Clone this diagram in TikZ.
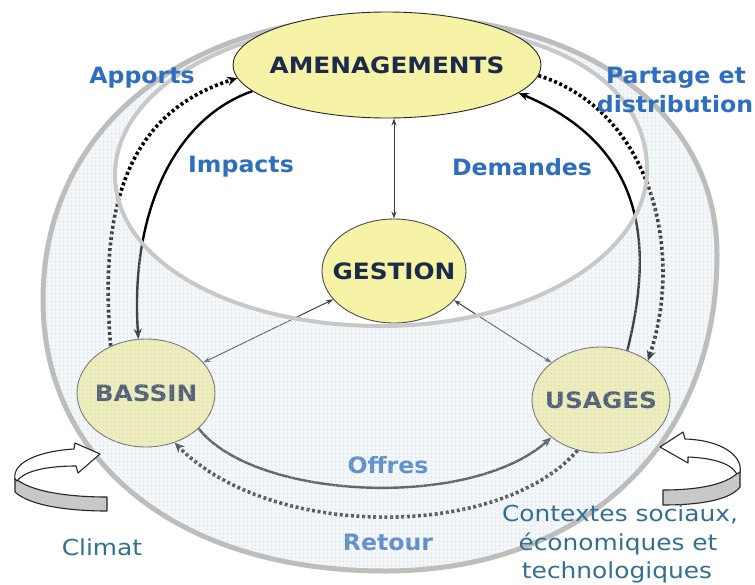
\documentclass[tikz,border=0pt]{standalone}
\usepackage{fontspec}
\setmainfont{DejaVu Sans}
\newfontfamily\nodefont[FakeStretch=1.1]{DejaVu Sans}
\newfontfamily\lblfont[FakeStretch=1.05]{DejaVu Sans}
\newfontfamily\ctxfont[FakeStretch=1.13]{DejaVu Sans}
\usetikzlibrary{shapes.geometric,arrows.meta,patterns.meta}
\pgfdeclarelayer{ringlayer}
\pgfdeclarelayer{toplayer}
\pgfsetlayers{main,ringlayer,toplayer}
\definecolor{ellfill}{HTML}{F7F3A6}
\definecolor{navy}{HTML}{1C2B4A}
\definecolor{lblblue}{HTML}{2E6EBE}
\definecolor{ctxblue}{HTML}{336F91}
\definecolor{ringgray}{HTML}{BDBDBD}
\definecolor{ringgraytwo}{HTML}{C8C8C8}
\definecolor{ringfill}{HTML}{D8E2EC}
\definecolor{dotcol}{HTML}{BCC8D4}
\definecolor{bandgray}{HTML}{C8C8C8}
\newcommand{\zerow}[1]{\makebox[0pt]{#1}}
\tikzset{
  ell/.style={ellipse, draw=black!70, line width=0.9pt, fill=ellfill, inner sep=0pt,
    font=\nodefont\bfseries\fontsize{22.5}{22.5}\selectfont, text=navy},
  lbl/.style={font=\lblfont\bfseries\fontsize{22.5}{26}\selectfont, text=lblblue, anchor=base, inner sep=0pt},
  ctx/.style={font=\ctxfont\fontsize{22}{30}\selectfont, text=ctxblue, anchor=base, inner sep=0pt},
  flow/.style={line width=2.4pt, -{Stealth[length=10pt,width=8pt]}},
  dotflow/.style={line width=3.6pt, dash pattern=on 3pt off 2.6pt, -{Stealth[length=10pt,width=9pt]}},
  gline/.style={line width=1pt, draw=black!75, {Stealth[length=7pt,width=5pt]}-{Stealth[length=7pt,width=5pt]}},
  turnband/.style={fill=bandgray, draw=black!85, line width=1.1pt, line join=round},
  turntop/.style={fill=white, draw=black!85, line width=1.1pt, line join=round}
}
\begin{document}
\begin{tikzpicture}[x=1pt,y=-1pt]
\useasboundingbox (0,0) rectangle (755,584);
\fill[white] (0,0) rectangle (755,584);

\begin{pgfonlayer}{toplayer}
\node[ell, draw=black!85, minimum width=308pt, minimum height=106pt] (amen) at (387,65) {\zerow{AMENAGEMENTS}};
\end{pgfonlayer}

% nodes inside the ring
\node[ell, minimum width=138pt, minimum height=108pt] (bass) at (146,393) {\zerow{BASSIN}};
\node[ell, minimum width=138pt, minimum height=106pt] (usag) at (601,400) {\zerow{USAGES}};
\node[ell, minimum width=144pt, minimum height=104pt] (gest) at (394,271) {\zerow{GESTION}};

% connectors
\draw[dotflow] (bass.127) .. controls (100,220) and (120,115) .. (amen.185);
\draw[flow] (amen.191) .. controls (170,120) and (130,220) .. (bass.98);
\draw[flow] (usag.62) .. controls (650,260) and (655,150) .. (amen.348);
\draw[dotflow] (amen.356) .. controls (650,110) and (685,250) .. (usag.40);
\draw[flow, draw=black!80] (bass.326) .. controls (255,500) and (470,510) .. (usag.217);
\draw[dotflow, draw=black!85] (usag.245) .. controls (500,540) and (270,540) .. (bass.300);
\draw[gline] (gest.205) -- (bass.28);
\draw[gline] (gest.334) -- (usag.143);
\draw[gline] (gest.north |- amen.south) -- (gest.north);

% labels in the ring
\node[lbl] (impacts) at (241,172) {Impacts};
\node[lbl] (demandes) at (522,175) {Demandes};
\node[lbl] (offres) at (388,473) {Offres};
\node[lbl] (retour) at (388,550) {Retour};

% ring overlay
\begin{pgfonlayer}{ringlayer}
\begin{scope}
  \clip (390,16) .. controls (586,16) and (717,112) .. (717,255)
    .. controls (717,445) and (584,571) .. (385,571)
    .. controls (180,571) and (43,463) .. (43,300)
    .. controls (43,130) and (182,16) .. (390,16) -- cycle;
  \fill[ringfill, fill opacity=0.3, even odd rule] (0,0) rectangle (755,584)
    (381,22) .. controls (545,22) and (647,78) .. (647,170)
    .. controls (647,255) and (530,326) .. (381,326)
    .. controls (230,326) and (115,260) .. (115,175)
    .. controls (115,90) and (230,22) .. (381,22) -- cycle;
  \fill[pattern={Dots[distance=4pt, radius=0.55pt]}, pattern color=dotcol, even odd rule] (0,0) rectangle (755,584)
    (381,22) .. controls (545,22) and (647,78) .. (647,170)
    .. controls (647,255) and (530,326) .. (381,326)
    .. controls (230,326) and (115,260) .. (115,175)
    .. controls (115,90) and (230,22) .. (381,22) -- cycle;
\end{scope}
\draw[ringgraytwo, line width=4pt]
    (381,22) .. controls (545,22) and (647,78) .. (647,170)
    .. controls (647,255) and (530,326) .. (381,326)
    .. controls (230,326) and (115,260) .. (115,175)
    .. controls (115,90) and (230,22) .. (381,22) -- cycle;
\draw[ringgray, line width=5pt] (390,16) .. controls (586,16) and (717,112) .. (717,255)
    .. controls (717,445) and (584,571) .. (385,571)
    .. controls (180,571) and (43,463) .. (43,300)
    .. controls (43,130) and (182,16) .. (390,16) -- cycle;
\end{pgfonlayer}

\begin{pgfonlayer}{toplayer}
% outer labels
\node[lbl] (apports) at (142,83) {Apports};
\node[lbl] (partage) at (676,83) {Partage et};
\node[lbl] (distrib) at (675,112) {distribution};

% turning arrows
\path[turnband] (15,478) -- (15,492) .. controls (30,506) and (70,511) .. (107,511) -- (107,497) .. controls (70,497) and (30,492) .. (15,478) -- cycle;
\path[turntop] (15,479) .. controls (12,462) and (40,451) .. (74,449) -- (75,443) -- (100,454) -- (78,473) -- (76,466) .. controls (50,466) and (25,470) .. (17,481) -- cycle;
\path[turnband] (740,470) -- (740,487) .. controls (730,500) and (700,505) .. (663,505) -- (663,490) .. controls (700,490) and (730,484) .. (740,470) -- cycle;
\path[turntop] (740,472) .. controls (743,455) and (720,440) .. (685,439) -- (683,432) -- (660,447) -- (688,463) -- (688,457) .. controls (710,458) and (730,462) .. (737,474) -- cycle;

\node[ctx] (climat) at (102,555) {Climat};
\node[ctx] (ctxa) at (620,521) {Contextes sociaux,};
\node[ctx] (ctxb) at (618,550) {économiques et};
\node[ctx] (ctxc) at (617,578) {technologiques};
\end{pgfonlayer}
\end{tikzpicture}
\end{document}
